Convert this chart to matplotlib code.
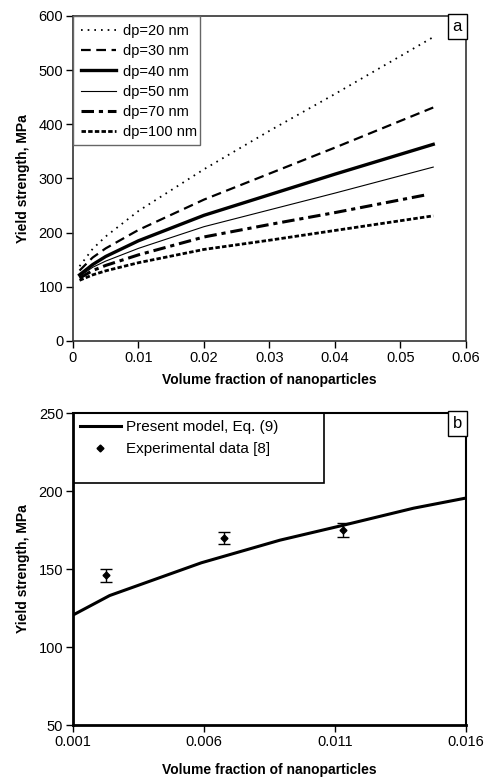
import numpy as np
import matplotlib
matplotlib.use("Agg")
import matplotlib.pyplot as plt
from matplotlib.patches import Rectangle

plt.rcParams['font.family'] = ['Liberation Sans', 'DejaVu Sans']
plt.rcParams['lines.scale_dashes'] = False

# (a) yield strength vs volume fraction for several particle sizes
vf = [0.001, 0.003, 0.005, 0.01, 0.02, 0.03, 0.04, 0.055]
vf70 = [0.001, 0.003, 0.005, 0.01, 0.02, 0.03, 0.04, 0.054]
ys_20 = [138, 170, 193, 240, 317, 388, 456, 561]
ys_30 = [130, 154, 171, 205, 261, 309, 357, 431]
ys_40 = [122, 141, 156, 185, 232, 270, 308, 363]
ys_50 = [119, 136, 147.5, 171, 211, 242, 273, 321]
ys_70 = [116, 130, 139.5, 159, 192, 215, 237, 270]
ys_100 = [112, 122, 129.5, 144.5, 169, 186, 204, 231]

# (b) model vs experiment
vf_model = [0.001, 0.0024, 0.0059, 0.0089, 0.0113, 0.014, 0.016]
ys_model = [120.5, 133, 154, 168.5, 178, 189, 195.5]
vf_exp = [0.00226, 0.00676, 0.0113]
ys_exp = [146, 170, 175]
err_exp = [4, 3.8, 4.5]

fig = plt.figure(figsize=(4.85, 7.79), dpi=100)
ax1 = fig.add_axes([0.1505, 0.5623, 0.8103, 0.4172])
ax2 = fig.add_axes([0.1505, 0.0693, 0.8103, 0.4005])

styles = [
    ('dp=20 nm', vf, ys_20, dict(lw=1.3, dashes=(1.2, 3.6))),
    ('dp=30 nm', vf, ys_30, dict(lw=1.6, dashes=(7, 4))),
    ('dp=40 nm', vf, ys_40, dict(lw=2.4)),
    ('dp=50 nm', vf, ys_50, dict(lw=0.8)),
    ('dp=70 nm', vf70, ys_70, dict(lw=2.2, dashes=(9, 3.5, 3, 3.5))),
    ('dp=100 nm', vf, ys_100, dict(lw=2.0, dashes=(3.2, 1.6))),
]
for lab, x, y, kw in styles:
    ax1.plot(x, y, color='black', label=lab, **kw)

ax1.set_xlim(0, 0.06)
ax1.set_ylim(0, 600)
ax1.set_xticks(np.arange(0, 0.061, 0.01))
ax1.set_xticklabels(['0', '0.01', '0.02', '0.03', '0.04', '0.05', '0.06'])
ax1.set_yticks(range(0, 601, 100))
ax1.set_xlabel('Volume fraction of nanoparticles', fontsize=10, fontweight='bold', labelpad=6)
ax1.set_ylabel('Yield strength, MPa', fontsize=10, fontweight='bold', labelpad=6)
for s in ax1.spines.values():
    s.set_linewidth(1.2)
    s.set_color('#333333')

ax1.legend(loc='upper left', bbox_to_anchor=(0.0, 1.0), frameon=False,
           fontsize=10.5, handlelength=2.4, handletextpad=0.45,
           labelspacing=0.43, borderaxespad=0.25, borderpad=0.3)
ax1.add_patch(Rectangle((0, 1 - 0.397), 0.323, 0.397, transform=ax1.transAxes,
                        fill=False, ec='#666666', lw=1.0, zorder=5))
ax1.text(0.99, 0.99, 'a', transform=ax1.transAxes, ha='right', va='top', fontsize=12,
         bbox=dict(boxstyle='square,pad=0.3', fc='white', ec='black', lw=1.0))

# panel b
ax2.plot(vf_model, ys_model, color='black', lw=2.2, label='Present model, Eq. (9)')
ax2.errorbar(vf_exp, ys_exp, yerr=err_exp, fmt='none', ecolor='black',
             elinewidth=1.0, capsize=4, capthick=1.0)
ax2.plot(vf_exp, ys_exp, 'D', ms=3.5, color='black', label='Experimental data [8]')
ax2.set_xlim(0.001, 0.016)
ax2.set_ylim(50, 250)
ax2.set_xticks([0.001, 0.006, 0.011, 0.016])
ax2.set_xticklabels(['0.001', '0.006', '0.011', '0.016'])
ax2.set_yticks([50, 100, 150, 200, 250])
ax2.set_xlabel('Volume fraction of nanoparticles', fontsize=10, fontweight='bold', labelpad=10)
ax2.set_ylabel('Yield strength, MPa', fontsize=10, fontweight='bold', labelpad=6)
ax2.spines['left'].set_linewidth(2.0)
ax2.spines['bottom'].set_linewidth(2.0)
ax2.spines['top'].set_linewidth(1.5)
ax2.spines['right'].set_linewidth(1.5)

ax2.legend(loc='upper left', bbox_to_anchor=(0.0, 1.0), frameon=False,
           fontsize=11, handlelength=2.7, handletextpad=0.35, labelspacing=0.55,
           borderaxespad=0.2, borderpad=0.25)
ax2.add_patch(Rectangle((0, 1 - 0.224), 0.639, 0.224, transform=ax2.transAxes,
                        fill=False, ec='black', lw=1.2, zorder=5))
ax2.text(0.99, 0.99, 'b', transform=ax2.transAxes, ha='right', va='top', fontsize=12,
         bbox=dict(boxstyle='square,pad=0.3', fc='white', ec='black', lw=1.0))

for ax in (ax1, ax2):
    ax.tick_params(direction='out', length=5, width=1.0, labelsize=10.5, pad=2)

fig.savefig('out.png', dpi=100)
